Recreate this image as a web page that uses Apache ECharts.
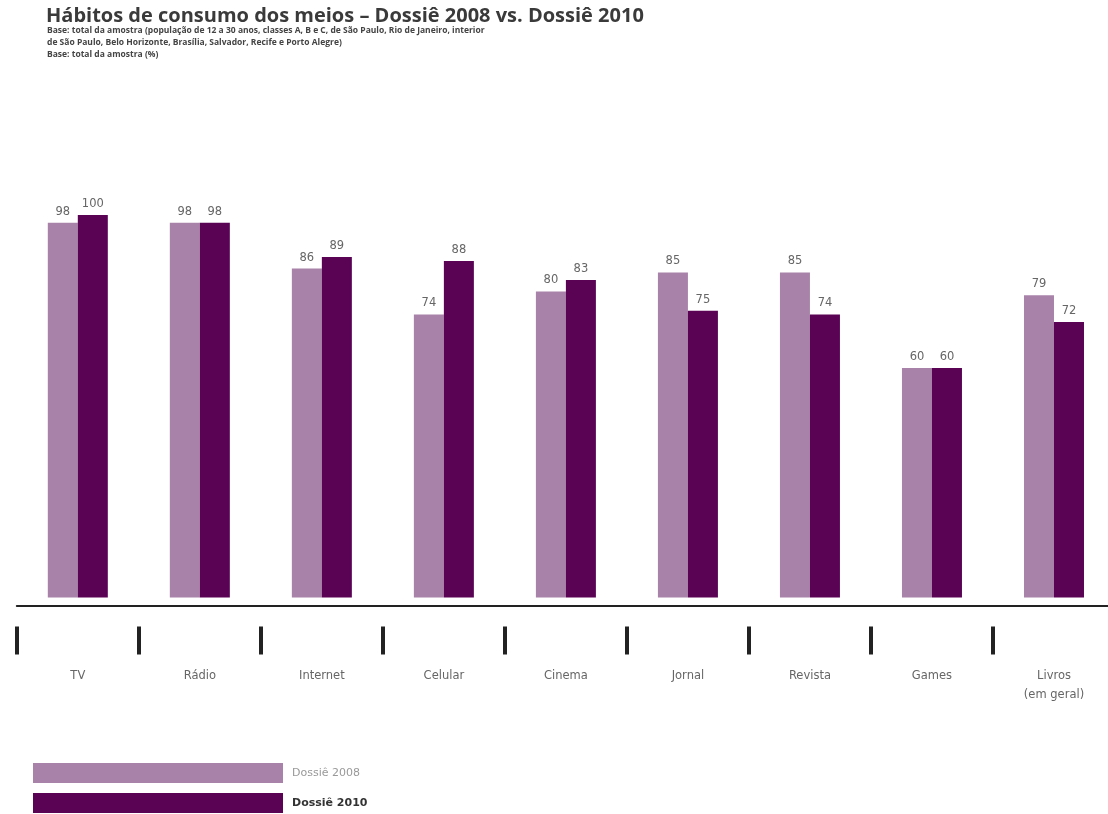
<!DOCTYPE html>
<html>
<head>
<meta charset="utf-8">
<script src="https://cdn.jsdelivr.net/npm/echarts@6/dist/echarts.min.js"></script>
<style>
  html, body { margin: 0; padding: 0; background: #fff; overflow: hidden; }
  /* the canvas runs a few pixels past the window so the last band is cut at the right edge */
  #chart { width: 1116px; height: 814px; }
</style>
</head>
<body>
<div id="chart"></div>
<script>
// Media consumption habits, Dossiê 2008 vs. Dossiê 2010 (% of sample)
const categories = ['TV', 'Rádio', 'Internet', 'Celular', 'Cinema', 'Jornal', 'Revista', 'Games', 'Livros\n(em geral)'];
const dossie2008 = [98, 98, 86, 74, 80, 85, 85, 60, 79];
const dossie2010 = [100, 98, 89, 88, 83, 75, 74, 60, 72];
const seriesNames = ['Dossiê 2008', 'Dossiê 2010'];

const titleText = 'Hábitos de consumo dos meios – Dossiê 2008 vs. Dossiê 2010';
const subtitleLines = [
  'Base: total da amostra (população de 12 a 30 anos, classes A, B e C, de São Paulo, Rio de Janeiro, interior',
  'de São Paulo, Belo Horizonte, Brasília, Salvador, Recife e Porto Alegre)',
  'Base: total da amostra (%)'
];

const TITLE_FONT = '"Open Sans", "DejaVu Sans", sans-serif';
const FONT = '"DejaVu Sans", "Open Sans", sans-serif';
const COLOR_2008 = '#a882a8';
const COLOR_2010 = '#5a0355';

const chart = echarts.init(document.getElementById('chart'), null, { renderer: 'canvas' });

const valueLabel = {
  show: true,
  position: 'top',
  distance: 5,
  color: '#666',
  fontSize: 11.5,
  fontFamily: FONT
};

chart.setOption({
  backgroundColor: '#fff',
  animation: false,
  title: [
    {
      text: titleText,
      left: 41,
      top: 1,
      textStyle: { fontFamily: TITLE_FONT, fontSize: 20, fontWeight: 'bold', color: '#3a3a3a' }
    },
    {
      text: subtitleLines.join('\n'),
      left: 42,
      top: 20,
      textStyle: { fontFamily: TITLE_FONT, fontSize: 8.5, fontWeight: 'bold', color: '#444', lineHeight: 12 }
    }
  ],
  legend: {
    orient: 'vertical',
    left: 33,
    top: 763,
    padding: 0,
    itemWidth: 250,
    itemHeight: 20,
    itemGap: 10,
    icon: 'rect',
    selectedMode: false,
    textStyle: { fontFamily: FONT, fontSize: 11, color: '#999', padding: [0, 0, 0, 4] },
    data: [
      { name: seriesNames[0] },
      { name: seriesNames[1], textStyle: { fontWeight: 'bold', color: '#333' } }
    ]
  },
  grid: { left: 16.8, right: 1, top: 215, bottom: 216.5, containLabel: false },
  xAxis: [
    {
      type: 'category',
      data: categories,
      position: 'bottom',
      offset: 8,
      axisLine: { show: true, onZero: false, lineStyle: { color: '#222', width: 2 } },
      axisTick: { show: false },
      axisLabel: { show: false }
    },
    {
      type: 'category',
      data: categories,
      position: 'bottom',
      offset: 29,
      axisLine: { show: false, onZero: false },
      axisTick: { show: true, length: 28, lineStyle: { color: '#222', width: 4 } },
      axisLabel: {
        show: true,
        margin: 40,
        color: '#666',
        fontSize: 11.5,
        lineHeight: 19,
        fontFamily: FONT,
        interval: 0
      }
    }
  ],
  yAxis: {
    type: 'value',
    min: 0,
    max: 100,
    show: false,
    splitLine: { show: false }
  },
  series: [
    {
      name: seriesNames[0],
      type: 'bar',
      xAxisIndex: 0,
      data: dossie2008,
      barWidth: 30,
      barGap: '0%',
      itemStyle: { color: COLOR_2008 },
      label: valueLabel
    },
    {
      name: seriesNames[1],
      type: 'bar',
      xAxisIndex: 0,
      data: dossie2010,
      barWidth: 30,
      barGap: '0%',
      itemStyle: { color: COLOR_2010 },
      label: valueLabel
    }
  ]
});
</script>
</body>
</html>
